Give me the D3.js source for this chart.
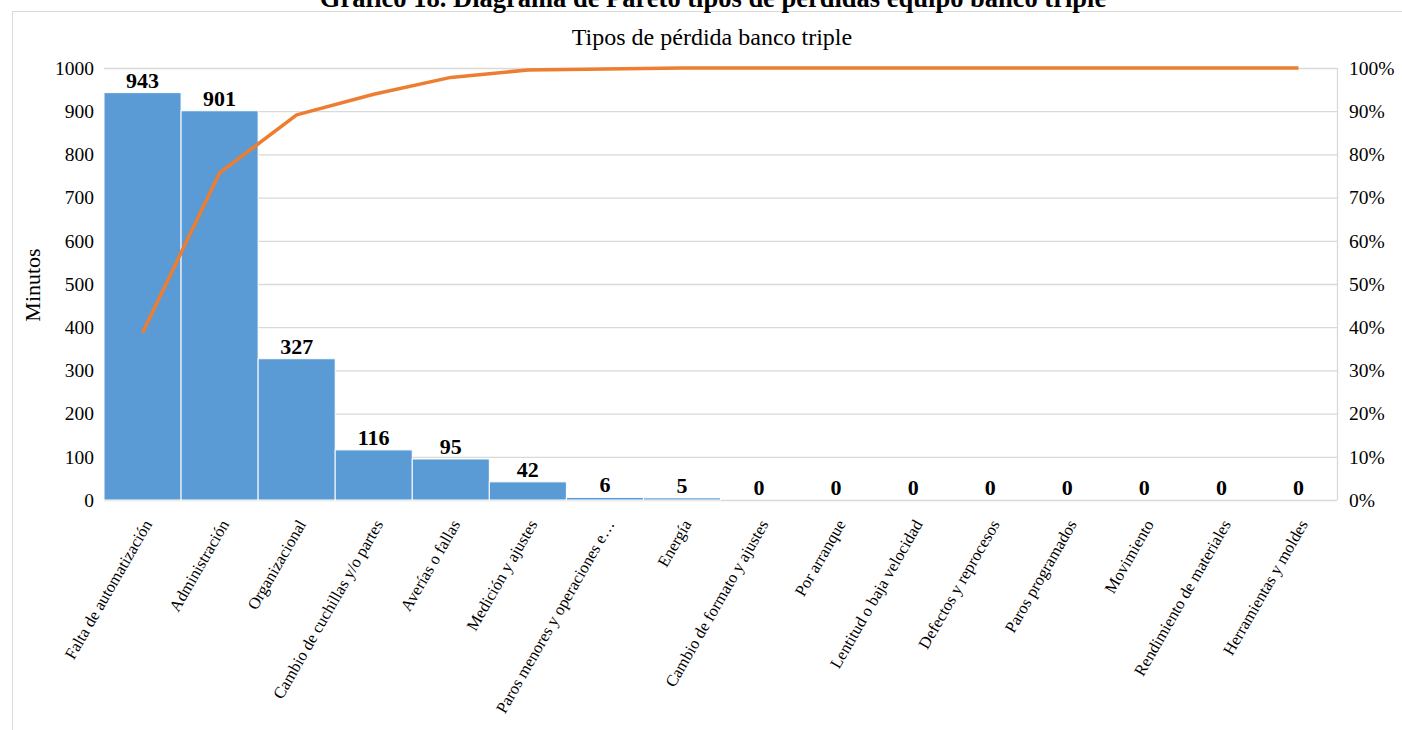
<!DOCTYPE html>
<html><head><meta charset="utf-8">
<script src="https://cdn.jsdelivr.net/npm/d3@7"></script>
<style>
html,body{margin:0;padding:0;background:#fff;}
svg{display:block;}
svg text{font-family:"Liberation Serif","Times New Roman",serif !important;fill:#000;}
</style></head>
<body>
<svg id="chart" width="1402" height="730"></svg>
<script>
const categories = ["Falta de automatización","Administración","Organizacional","Cambio de cuchillas y/o partes","Averías o fallas","Medición y ajustes","Paros menores y operaciones e…","Energía","Cambio de formato y ajustes","Por arranque","Lentitud o baja velocidad","Defectos y reprocesos","Paros programados","Movimiento","Rendimiento de materiales","Herramientas y moldes"];
const minutes = [943,901,327,116,95,42,6,5,0,0,0,0,0,0,0,0];
const leftTicks = [0,100,200,300,400,500,600,700,800,900,1000];
const rightTicks = [0,0.1,0.2,0.3,0.4,0.5,0.6,0.7,0.8,0.9,1];

const total = d3.sum(minutes);
const cumulative = d3.cumsum(minutes).map(v => v / total);

const svg = d3.select("#chart");
const m = {left:104, right:1337, top:68, bottom:500};

// outer chart frame
svg.append("rect").attr("x",12.5).attr("y",11.5).attr("width",1402).attr("height",740)
  .attr("fill","none").attr("stroke","#d9d9d9");

// document caption above the chart
svg.append("text").attr("x",713).attr("y",7).attr("text-anchor","middle")
  .attr("font-size",26.5).attr("font-weight","bold")
  .text("Gráfico 18. Diagrama de Pareto tipos de pérdidas equipo banco triple");

svg.append("text").attr("x",712).attr("y",45).attr("text-anchor","middle")
  .attr("font-size",24).text("Tipos de pérdida banco triple");

const x = d3.scaleBand().domain(categories).range([m.left,m.right]).padding(0);
const y = d3.scaleLinear().domain([0,1000]).range([m.bottom,m.top]);
const y2 = d3.scaleLinear().domain([0,1]).range([m.bottom,m.top]);

// gridlines
svg.append("g").selectAll("line").data(leftTicks).join("line")
  .attr("x1",m.left).attr("x2",m.right)
  .attr("y1",d=>y(d)+0.5).attr("y2",d=>y(d)+0.5)
  .attr("stroke","#d9d9d9").attr("stroke-width",1.3);
// right edge of plot area
svg.append("line").attr("x1",m.right+0.5).attr("x2",m.right+0.5)
  .attr("y1",m.top).attr("y2",m.bottom).attr("stroke","#d9d9d9").attr("stroke-width",1.3);

// bars
svg.append("g").selectAll("rect").data(minutes).join("rect")
  .attr("x",(d,i)=>x(categories[i]))
  .attr("width",x.bandwidth())
  .attr("y",d=>y(d))
  .attr("height",d=>y(0)-y(d))
  .attr("fill","#5b9bd5").attr("stroke","#fff").attr("stroke-width",1);

// value labels
svg.append("g").selectAll("text").data(minutes).join("text")
  .attr("x",(d,i)=>x(categories[i])+x.bandwidth()/2)
  .attr("y",d=>y(d)-5)
  .attr("text-anchor","middle").attr("font-size",22).attr("font-weight","bold")
  .text(d=>d);

// cumulative line
const line = d3.line().x((d,i)=>x(categories[i])+x.bandwidth()/2).y(d=>y2(d));
svg.append("path").datum(cumulative).attr("d",line)
  .attr("fill","none").attr("stroke","#ed7d31").attr("stroke-width",3.5)
  .attr("stroke-linejoin","round");

// left axis
const gl = svg.append("g").attr("transform",`translate(${m.left-10},0)`)
  .call(d3.axisLeft(y).tickValues(leftTicks).tickFormat(d3.format("d")).tickSize(0).tickPadding(0));
gl.select(".domain").remove();
gl.selectAll("text").attr("font-size",19.5);

// right axis
const gr = svg.append("g").attr("transform",`translate(${m.right+12},0)`)
  .call(d3.axisRight(y2).tickValues(rightTicks).tickFormat(d3.format(".0%")).tickSize(0).tickPadding(0));
gr.select(".domain").remove();
gr.selectAll("text").attr("font-size",19.5);

// category labels
svg.append("g").selectAll("text").data(categories).join("text")
  .attr("transform",d=>`translate(${x(d)+x.bandwidth()/2+10},${m.bottom+24}) rotate(-60)`)
  .attr("text-anchor","end").attr("font-size",16.5).text(d=>d);

// axis title
svg.append("text").attr("transform","translate(40,285) rotate(-90)")
  .attr("text-anchor","middle").attr("font-size",22).text("Minutos");
</script>
</body></html>
